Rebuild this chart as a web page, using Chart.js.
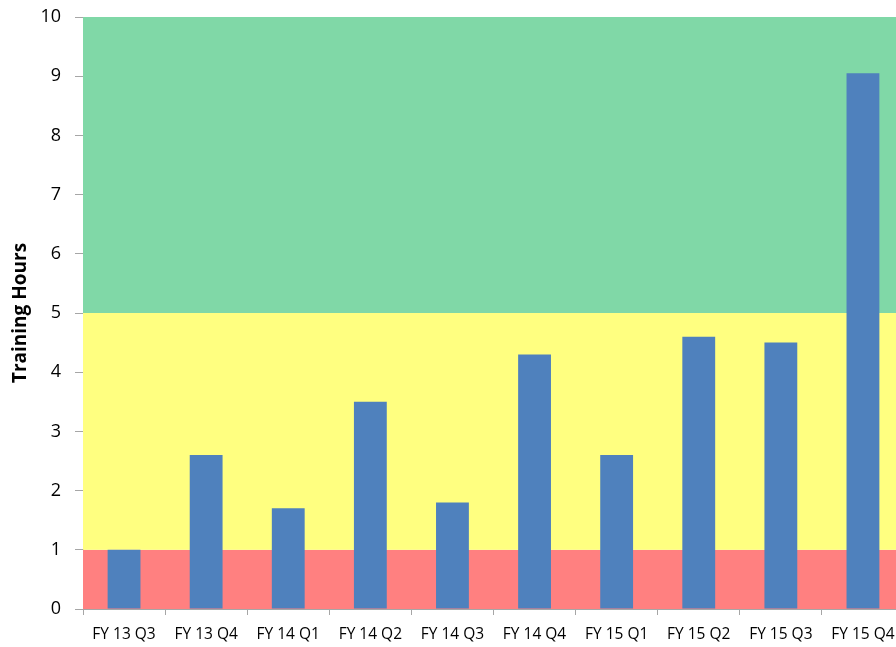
<!DOCTYPE html>
<html>
<head>
<meta charset="utf-8">
<script src="https://cdn.jsdelivr.net/npm/chart.js@4/dist/chart.umd.min.js"></script>
<style>
  html, body { margin: 0; padding: 0; background: #fff; overflow: hidden; width: 896px; height: 647px; }
  #wrap { width: 904px; height: 647px; position: relative; }
</style>
</head>
<body>
<div id="wrap"><canvas id="c"></canvas></div>
<script>
const categories = ["FY 13 Q3", "FY 13 Q4", "FY 14 Q1", "FY 14 Q2", "FY 14 Q3", "FY 14 Q4", "FY 15 Q1", "FY 15 Q2", "FY 15 Q3", "FY 15 Q4"];
const trainingHours = [1.0, 2.6, 1.7, 3.5, 1.8, 4.3, 2.6, 4.6, 4.5, 9.05];
const bandFrom = [0, 1, 5];
const bandTo = [1, 5, 10];
const bandColors = ["#FF8080", "#FFFF80", "#80D8A7"];
const yMin = 0, yMax = 10, yStep = 1;

const bandsPlugin = {
  id: 'bands',
  beforeDatasetsDraw(chart) {
    const { ctx, chartArea, scales } = chart;
    const y = scales.y;
    ctx.save();
    for (let i = 0; i < bandFrom.length; i++) {
      const top = y.getPixelForValue(bandTo[i]);
      const bot = y.getPixelForValue(bandFrom[i]);
      ctx.fillStyle = bandColors[i];
      ctx.fillRect(chartArea.left, top, chartArea.right - chartArea.left, bot - top);
    }
    ctx.restore();
  }
};

new Chart(document.getElementById('c'), {
  type: 'bar',
  data: {
    labels: categories,
    datasets: [{
      label: 'Training Hours',
      data: trainingHours,
      backgroundColor: '#4F81BD',
      borderWidth: 0,
      categoryPercentage: 1.0,
      barPercentage: 0.4
    }]
  },
  options: {
    responsive: true,
    maintainAspectRatio: false,
    animation: false,
    layout: { padding: { top: 17, right: 0, bottom: 0, left: 0 } },
    plugins: { legend: { display: false }, tooltip: { enabled: false } },
    scales: {
      x: {
        offset: true,
        grid: { offset: true, drawOnChartArea: false, tickLength: 6, color: '#A6A6A6' },
        border: { color: '#A6A6A6', width: 1 },
        ticks: { color: '#000', font: { family: 'Open Sans', size: 15.5 }, padding: 10, maxRotation: 0, autoSkip: false },
        afterFit(s) { s.height = 38; s.paddingLeft = 0; s.paddingRight = 0; }
      },
      y: {
        min: yMin, max: yMax,
        grid: { drawOnChartArea: false, tickLength: 8, color: '#A6A6A6' },
        border: { color: '#A6A6A6', width: 1 },
        ticks: { stepSize: yStep, color: '#000', font: { family: 'Open Sans', size: 18 }, padding: 14 },
        title: { display: true, text: 'Training Hours', color: '#000', font: { family: 'Open Sans', size: 19, weight: 'bold' }, padding: { top: 9, bottom: 0 } },
        afterFit(s) { s.width = 83; s.paddingTop = 0; s.paddingBottom = 0; }
      }
    }
  },
  plugins: [bandsPlugin]
});
</script>
</body>
</html>
